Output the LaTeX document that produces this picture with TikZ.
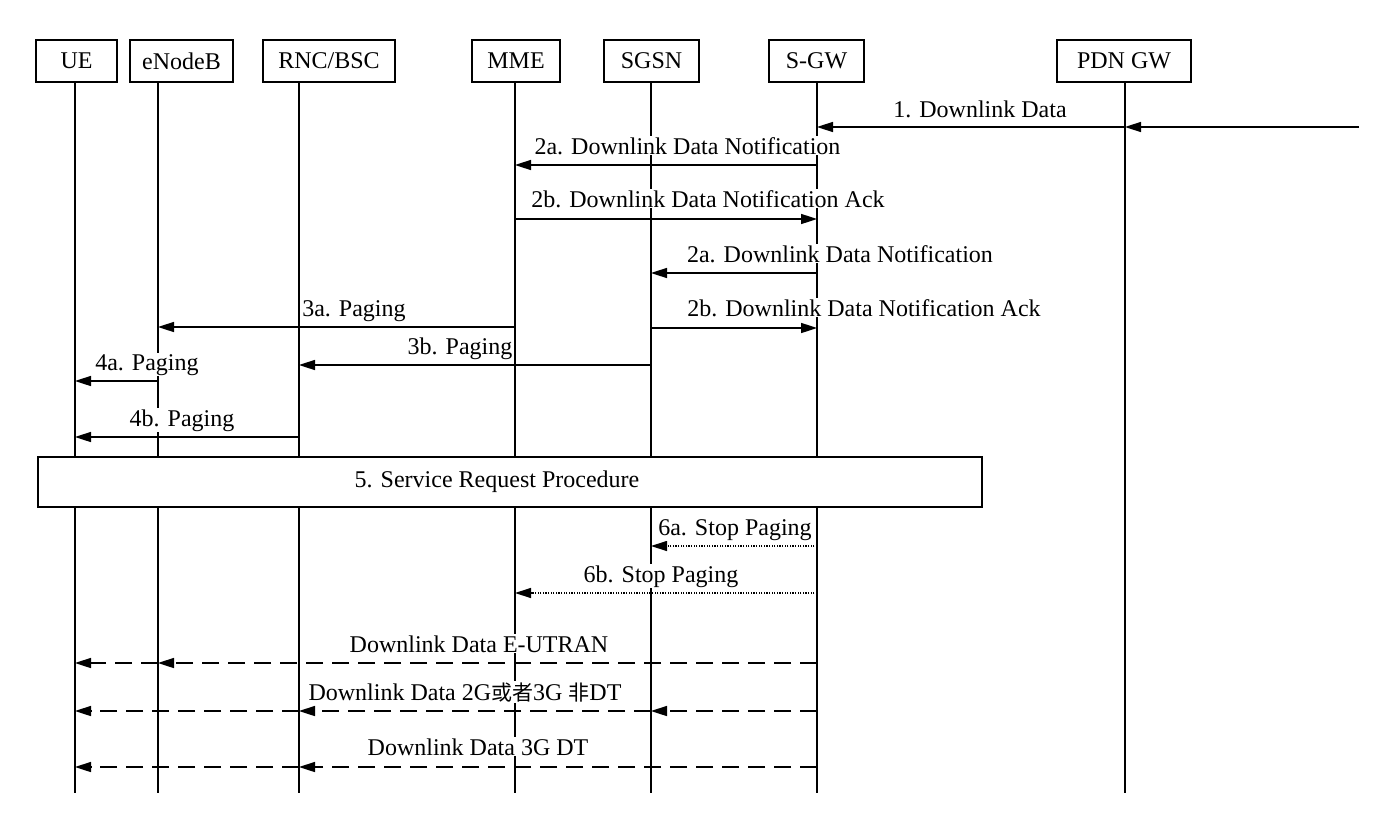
\documentclass[tikz,border=0pt]{standalone}
\usepackage{fontspec}
\setmainfont{Liberation Serif}
\newfontfamily\cjk{Noto Sans CJK SC}
\usetikzlibrary{arrows.meta}
\begin{document}
\begin{tikzpicture}[x=1pt,y=-1pt,
  every node/.style={font=\fontsize{24}{28}\selectfont},
  hdr/.style={draw, line width=1.6pt, minimum height=42pt, inner sep=0pt},
  life/.style={line width=1.6pt},
  msg/.style={line width=1.6pt, -{Triangle[length=16pt,width=10pt]}},
  dsh/.style={msg, dash pattern=on 17pt off 9pt},
  dotl/.style={line width=1.3pt, dash pattern=on 1.3pt off 1.3pt, -{Triangle[length=16pt,width=10pt]}},
  lbl/.style={fill=white, inner sep=1pt, anchor=base}
]
\useasboundingbox (0,0) rectangle (1400,816);
% header boxes
\node[hdr, minimum width=81pt] (ue) at (76.5,61) {UE};
\node[hdr, minimum width=103pt] (enb) at (181.5,61) {eNodeB};
\node[hdr, minimum width=132pt] (rnc) at (329,61) {RNC/BSC};
\node[hdr, minimum width=88pt] (mme) at (516,61) {MME};
\node[hdr, minimum width=95pt] (sgsn) at (651.5,61) {SGSN};
\node[hdr, minimum width=95pt] (sgw) at (816.5,61) {S-GW};
\node[hdr, minimum width=134pt] (pdn) at (1124,61) {PDN GW};
% lifeline x positions and bottom
\coordinate (xue) at (75,0);
\coordinate (xenb) at (158,0);
\coordinate (xrnc) at (299,0);
\coordinate (xmme) at (515,0);
\coordinate (xsgsn) at (651,0);
\coordinate (xsgw) at (817,0);
\coordinate (xpdn) at (1125,0);
\coordinate (bot) at (0,793);
\foreach \n/\x in {ue/xue,enb/xenb,rnc/xrnc,mme/xmme,sgsn/xsgsn,sgw/xsgw,pdn/xpdn}
  \draw[life] (\n.south -| \x) -- (\x |- bot);
% service request box
\node[draw, fill=white, line width=1.6pt, minimum width=944pt, minimum height=50pt, inner sep=0pt] (srp) at (510,482) {};
\node[inner sep=0pt] at (497,482) {5. Service Request Procedure};
% rows
\coordinate (r1) at (0,127);
\coordinate (r2a) at (0,165);
\coordinate (r2b) at (0,219);
\coordinate (r2c) at (0,273);
\coordinate (r2d) at (0,328);
\coordinate (r3a) at (0,327);
\coordinate (r3b) at (0,365);
\coordinate (r4a) at (0,381);
\coordinate (r4b) at (0,437);
\coordinate (r6a) at (0,546);
\coordinate (r6b) at (0,593);
\coordinate (rd1) at (0,663);
\coordinate (rd2) at (0,711);
\coordinate (rd3) at (0,767);
\coordinate (src) at (1359,127);
% messages
\draw[msg] (src) -- (xpdn |- r1);
\draw[msg] (xpdn |- r1) -- (xsgw |- r1);
\draw[msg] (xsgw |- r2a) -- (xmme |- r2a);
\draw[msg] (xmme |- r2b) -- (xsgw |- r2b);
\draw[msg] (xsgw |- r2c) -- (xsgsn |- r2c);
\draw[msg] (xsgsn |- r2d) -- (xsgw |- r2d);
\draw[msg] (xmme |- r3a) -- (xenb |- r3a);
\draw[msg] (xsgsn |- r3b) -- (xrnc |- r3b);
\draw[msg] (xenb |- r4a) -- (xue |- r4a);
\draw[msg] (xrnc |- r4b) -- (xue |- r4b);
\draw[dotl] (xsgw |- r6a) -- (xsgsn |- r6a);
\draw[dotl] (xsgw |- r6b) -- (xmme |- r6b);
\draw[dsh] (xsgw |- rd1) -- (xenb |- rd1);
\draw[dsh] (xenb |- rd1) -- (xue |- rd1);
\draw[dsh] (xsgw |- rd2) -- (xsgsn |- rd2);
\draw[dsh] (xsgsn |- rd2) -- (xrnc |- rd2);
\draw[dsh] (xrnc |- rd2) -- (xue |- rd2);
\draw[dsh] (xsgw |- rd3) -- (xrnc |- rd3);
\draw[dsh] (xrnc |- rd3) -- (xue |- rd3);
% labels
\node[lbl] at (980,117) {1. Downlink Data};
\node[lbl] at (687.5,154) {2a. Downlink Data Notification};
\node[lbl] at (708,207) {2b. Downlink Data Notification Ack};
\node[lbl] at (840,262) {2a. Downlink Data Notification};
\node[lbl] at (864,316) {2b. Downlink Data Notification Ack};
\node[lbl] at (354,316) {3a. Paging};
\node[lbl] at (460,354) {3b. Paging};
\node[lbl] at (147,370) {4a. Paging};
\node[lbl] at (182,426) {4b. Paging};
\node[lbl] at (735,535) {6a. Stop Paging};
\node[lbl] at (661,582) {6b. Stop Paging};
\node[lbl] at (479,652) {Downlink Data E-UTRAN};
\node[lbl] at (465,700) {Downlink Data 2G{\cjk\fontsize{21}{24}\selectfont 或者}3G {\cjk\fontsize{21}{24}\selectfont 非}DT};
\node[lbl] at (478,755) {Downlink Data 3G DT};
\end{tikzpicture}
\end{document}
